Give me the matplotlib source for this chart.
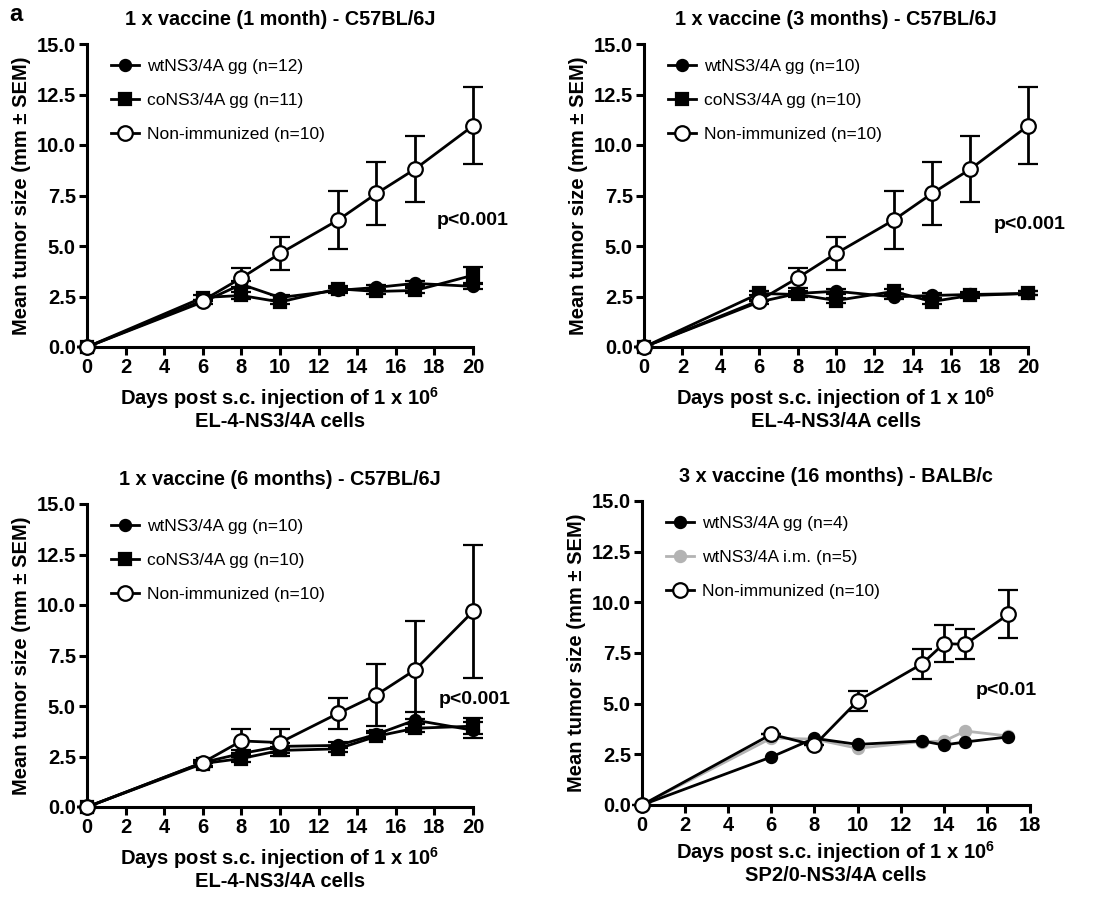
import matplotlib
matplotlib.use("Agg")
import matplotlib.pyplot as plt
from matplotlib.lines import Line2D
import numpy as np

plt.rcParams['font.family'] = ['Liberation Sans', 'DejaVu Sans']
plt.rcParams['mathtext.default'] = 'regular'

# panel 1: 1 month
days_a = [0, 6, 8, 10, 13, 15, 17, 20]
wt_a = [0, 2.23, 3.1, 2.45, 2.8, 2.95, 3.15, 3.0]
wt_a_err = [0, 0.12, 0.15, 0.12, 0.12, 0.12, 0.12, 0.12]
co_a = [0, 2.45, 2.55, 2.23, 2.88, 2.75, 2.8, 3.55]
co_a_err = [0, 0.12, 0.15, 0.12, 0.12, 0.12, 0.12, 0.4]
ni_a = [0, 2.3, 3.42, 4.63, 6.28, 7.6, 8.81, 10.95]
ni_a_err = [0, 0, 0.5, 0.83, 1.45, 1.57, 1.63, 1.91]

# panel 2: 3 months
wt_b = [0, 2.23, 2.65, 2.76, 2.48, 2.55, 2.6, 2.65]
wt_b_err = [0, 0.1, 0.12, 0.12, 0.12, 0.12, 0.1, 0.1]
co_b = [0, 2.65, 2.6, 2.3, 2.75, 2.25, 2.55, 2.65]
co_b_err = [0, 0.1, 0.12, 0.12, 0.12, 0.12, 0.1, 0.1]
ni_b = ni_a
ni_b_err = ni_a_err

# panel 3: 6 months
wt_c = [0, 2.2, 2.65, 3.0, 3.05, 3.6, 4.3, 3.8]
wt_c_err = [0, 0.15, 0.15, 0.15, 0.15, 0.15, 0.38, 0.4]
co_c = [0, 2.15, 2.4, 2.8, 2.88, 3.5, 3.9, 4.0]
co_c_err = [0, 0.15, 0.15, 0.15, 0.15, 0.15, 0.2, 0.4]
ni_c = [0, 2.2, 3.27, 3.19, 4.63, 5.55, 6.79, 9.68]
ni_c_err = [0, 0, 0.58, 0.66, 0.79, 1.54, 2.44, 3.3]

# panel 4: 16 months, BALB/c
days_d = [0, 6, 8, 10, 13, 14, 15, 17]
wt_d = [0, 2.37, 3.29, 2.99, 3.16, 2.96, 3.11, 3.36]
im_d = [0, 3.3, 3.25, 2.8, 3.13, 3.15, 3.65, 3.4]
ni_d = [0, 3.49, 2.95, 5.13, 6.97, 7.96, 7.93, 9.41]
ni_d_err = [0, 0, 0, 0.5, 0.74, 0.92, 0.74, 1.18]

fig = plt.figure(figsize=(10.96, 9.02), dpi=100)

W, H = 1096.0, 902.0
def make_ax(left, right, top, bottom):
    return fig.add_axes([left / W, 1 - bottom / H, (right - left) / W, (bottom - top) / H])

def style(ax, xmax, xstep, title, xlab, xpad=6):
    ax.set_xlim(0, xmax)
    ax.set_ylim(0, 15)
    ax.set_xticks(np.arange(0, xmax + 1, xstep))
    ax.set_yticks(np.arange(0, 15.1, 2.5))
    ax.set_yticklabels(["%.1f" % v for v in np.arange(0, 15.1, 2.5)])
    for s in ['top', 'right']:
        ax.spines[s].set_visible(False)
    for s in ['left', 'bottom']:
        ax.spines[s].set_linewidth(2.2)
    ax.tick_params(width=2.2, length=6, labelsize=14.5, direction='out', pad=2)
    for lab in ax.get_xticklabels() + ax.get_yticklabels():
        lab.set_fontweight('bold')
    ax.set_title(title, fontsize=14.3, fontweight='bold', pad=14)
    ax.set_ylabel("Mean tumor size (mm \u00b1 SEM)", fontsize=14.5, fontweight='bold', labelpad=4)
    ax.set_xlabel("Days post s.c. injection of 1 x 10$^6$\n" + xlab, fontsize=14.5,
                  fontweight='bold', linespacing=1.05, labelpad=xpad)

def series(ax, x, y, err, marker, color='black', face=None, ms=8, z=3):
    face = color if face is None else face
    ax.errorbar(x, y, yerr=err, color=color, marker=marker, ms=ms, mfc=face, mec=color,
                mew=1.6, lw=2, capsize=7, capthick=2, elinewidth=2,
                clip_on=False, zorder=z)
    return Line2D([], [], color=color, marker=marker, ms=ms, mfc=face, mec=color, mew=1.6, lw=2)

def legend(ax, handles, labels):
    ax.legend(handles, labels, loc='upper left', frameon=False, fontsize=12.5, handlelength=1.6,
              handletextpad=0.45, labelspacing=1.1, borderaxespad=0.0,
              bbox_to_anchor=(0.045, 0.975))

# panel 1
ax1 = make_ax(87, 473, 44, 347)
h = [series(ax1, days_a, wt_a, wt_a_err, 'o'),
     series(ax1, days_a, co_a, co_a_err, 's'),
     series(ax1, days_a, ni_a, ni_a_err, 'o', face='white', ms=10.5, z=4)]
style(ax1, 20, 2, "1 x vaccine (1 month) - C57BL/6J", "EL-4-NS3/4A cells")
legend(ax1, h, ['wtNS3/4A gg (n=12)', 'coNS3/4A gg (n=11)', 'Non-immunized (n=10)'])
ax1.text(18.1, 6.28, "p<0.001", fontsize=14, fontweight='bold', va='center', clip_on=False)

# panel 2
ax2 = make_ax(644, 1028, 44, 347)
h = [series(ax2, days_a, wt_b, wt_b_err, 'o'),
     series(ax2, days_a, co_b, co_b_err, 's'),
     series(ax2, days_a, ni_b, ni_b_err, 'o', face='white', ms=10.5, z=4)]
style(ax2, 20, 2, "1 x vaccine (3 months) - C57BL/6J", "EL-4-NS3/4A cells")
legend(ax2, h, ['wtNS3/4A gg (n=10)', 'coNS3/4A gg (n=10)', 'Non-immunized (n=10)'])
ax2.text(18.2, 6.04, "p<0.001", fontsize=14, fontweight='bold', va='center', clip_on=False)

# panel 3
ax3 = make_ax(87, 473, 504, 807)
h = [series(ax3, days_a, wt_c, wt_c_err, 'o'),
     series(ax3, days_a, co_c, co_c_err, 's'),
     series(ax3, days_a, ni_c, ni_c_err, 'o', face='white', ms=10.5, z=4)]
style(ax3, 20, 2, "1 x vaccine (6 months) - C57BL/6J", "EL-4-NS3/4A cells")
legend(ax3, h, ['wtNS3/4A gg (n=10)', 'coNS3/4A gg (n=10)', 'Non-immunized (n=10)'])
ax3.text(18.2, 5.34, "p<0.001", fontsize=14, fontweight='bold', va='center', clip_on=False)

# panel 4
ax4 = make_ax(642, 1030, 501, 805)
h = [series(ax4, days_d, wt_d, None, 'o', z=4),
     series(ax4, days_d, im_d, None, 'o', color='#b3b3b3', z=3),
     series(ax4, days_d, ni_d, ni_d_err, 'o', face='white', ms=10.5, z=5)]
style(ax4, 18, 2, "3 x vaccine (16 months) - BALB/c", "SP2/0-NS3/4A cells", xpad=3)
legend(ax4, h, ['wtNS3/4A gg (n=4)', 'wtNS3/4A i.m. (n=5)', 'Non-immunized (n=10)'])
ax4.text(15.5, 5.66, "p<0.01", fontsize=14, fontweight='bold', va='center', clip_on=False)

fig.text(0.008, 0.984, "a", fontsize=17, fontweight='bold', va='center')

fig.savefig("out.png", dpi=100)
